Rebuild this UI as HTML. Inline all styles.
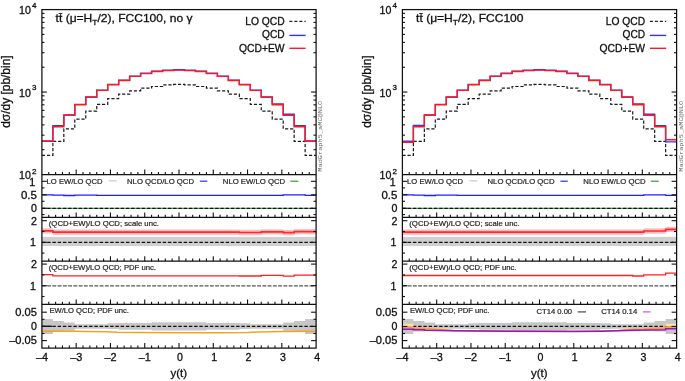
<!DOCTYPE html>
<html><head><meta charset="utf-8"><style>
html,body{margin:0;padding:0;background:#fff;}
body{width:685px;height:381px;overflow:hidden;}
svg{display:block;font-family:"Liberation Sans", sans-serif;will-change:transform;}
</style></head><body>
<svg width="685" height="381" viewBox="0 0 685 381">
<rect width="685" height="381" fill="#fff"/>
<rect x="41.90" y="236.9" width="274.20" height="9.1" fill="#cfcfcf"/>
<path d="M41.90 228.20 L52.87 228.20 L52.87 229.50 L63.84 229.50 L63.84 229.50 L74.80 229.50 L74.80 229.50 L85.77 229.50 L85.77 229.50 L96.74 229.50 L96.74 229.50 L107.71 229.50 L107.71 229.50 L118.68 229.50 L118.68 229.50 L129.64 229.50 L129.64 229.50 L140.61 229.50 L140.61 229.50 L151.58 229.50 L151.58 229.50 L162.55 229.50 L162.55 229.50 L173.52 229.50 L173.52 229.50 L184.48 229.50 L184.48 229.50 L195.45 229.50 L195.45 229.50 L206.42 229.50 L206.42 229.50 L217.39 229.50 L217.39 229.50 L228.36 229.50 L228.36 229.50 L239.32 229.50 L239.32 229.80 L250.29 229.80 L250.29 229.80 L261.26 229.80 L261.26 229.20 L272.23 229.20 L272.23 229.20 L283.20 229.20 L283.20 229.90 L294.16 229.90 L294.16 228.90 L305.13 228.90 L305.13 228.90 L316.10 228.90 L316.10 234.30 L305.13 234.30 L305.13 234.30 L294.16 234.30 L294.16 235.30 L283.20 235.30 L283.20 234.60 L272.23 234.60 L272.23 234.60 L261.26 234.60 L261.26 235.20 L250.29 235.20 L250.29 235.20 L239.32 235.20 L239.32 234.90 L228.36 234.90 L228.36 234.90 L217.39 234.90 L217.39 234.90 L206.42 234.90 L206.42 234.90 L195.45 234.90 L195.45 234.90 L184.48 234.90 L184.48 234.90 L173.52 234.90 L173.52 234.90 L162.55 234.90 L162.55 234.90 L151.58 234.90 L151.58 234.90 L140.61 234.90 L140.61 234.90 L129.64 234.90 L129.64 234.90 L118.68 234.90 L118.68 234.90 L107.71 234.90 L107.71 234.90 L96.74 234.90 L96.74 234.90 L85.77 234.90 L85.77 234.90 L74.80 234.90 L74.80 234.90 L63.84 234.90 L63.84 234.90 L52.87 234.90 L52.87 233.60 L41.90 233.60 Z" fill="#ffbec2"/>
<path d="M41.90 318.90 L52.87 318.90 L52.87 321.00 L63.84 321.00 L63.84 322.40 L74.80 322.40 L74.80 324.20 L85.77 324.20 L85.77 324.20 L96.74 324.20 L96.74 324.20 L107.71 324.20 L107.71 323.30 L118.68 323.30 L118.68 323.00 L129.64 323.00 L129.64 323.00 L140.61 323.00 L140.61 323.00 L151.58 323.00 L151.58 322.20 L162.55 322.20 L162.55 322.20 L173.52 322.20 L173.52 322.20 L184.48 322.20 L184.48 322.20 L195.45 322.20 L195.45 322.20 L206.42 322.20 L206.42 323.00 L217.39 323.00 L217.39 323.00 L228.36 323.00 L228.36 323.00 L239.32 323.00 L239.32 323.30 L250.29 323.30 L250.29 324.20 L261.26 324.20 L261.26 324.20 L272.23 324.20 L272.23 324.20 L283.20 324.20 L283.20 322.40 L294.16 322.40 L294.16 321.00 L305.13 321.00 L305.13 318.90 L316.10 318.90 L316.10 334.10 L305.13 334.10 L305.13 331.40 L294.16 331.40 L294.16 330.80 L283.20 330.80 L283.20 328.80 L272.23 328.80 L272.23 328.80 L261.26 328.80 L261.26 328.80 L250.29 328.80 L250.29 329.10 L239.32 329.10 L239.32 329.70 L228.36 329.70 L228.36 329.70 L217.39 329.70 L217.39 329.80 L206.42 329.80 L206.42 330.40 L195.45 330.40 L195.45 330.40 L184.48 330.40 L184.48 330.40 L173.52 330.40 L173.52 330.40 L162.55 330.40 L162.55 330.40 L151.58 330.40 L151.58 329.80 L140.61 329.80 L140.61 329.70 L129.64 329.70 L129.64 329.70 L118.68 329.70 L118.68 329.10 L107.71 329.10 L107.71 328.80 L96.74 328.80 L96.74 328.80 L85.77 328.80 L85.77 328.80 L74.80 328.80 L74.80 330.80 L63.84 330.80 L63.84 331.40 L52.87 331.40 L52.87 334.10 L41.90 334.10 Z" fill="#c6c6c6"/>
<path d="M41.90 155.40 L52.87 155.40 L52.87 141.30 L63.84 141.30 L63.84 128.80 L74.80 128.80 L74.80 119.20 L85.77 119.20 L85.77 111.10 L96.74 111.10 L96.74 104.40 L107.71 104.40 L107.71 98.60 L118.68 98.60 L118.68 94.20 L129.64 94.20 L129.64 90.80 L140.61 90.80 L140.61 88.10 L151.58 88.10 L151.58 86.50 L162.55 86.50 L162.55 84.90 L173.52 84.90 L173.52 84.40 L184.48 84.40 L184.48 84.90 L195.45 84.90 L195.45 86.50 L206.42 86.50 L206.42 88.10 L217.39 88.10 L217.39 90.80 L228.36 90.80 L228.36 94.20 L239.32 94.20 L239.32 98.60 L250.29 98.60 L250.29 104.40 L261.26 104.40 L261.26 111.10 L272.23 111.10 L272.23 119.20 L283.20 119.20 L283.20 128.80 L294.16 128.80 L294.16 141.30 L305.13 141.30 L305.13 155.40 L316.10 155.40" fill="none" stroke="#1a1a1a" stroke-width="1.2" stroke-dasharray="3.2 1.85"/>
<path d="M41.90 141.00 L52.87 141.00 L52.87 125.60 L63.84 125.60 L63.84 115.00 L74.80 115.00 L74.80 104.40 L85.77 104.40 L85.77 96.90 L96.74 96.90 L96.74 90.10 L107.71 90.10 L107.71 84.40 L118.68 84.40 L118.68 80.20 L129.64 80.20 L129.64 76.10 L140.61 76.10 L140.61 73.30 L151.58 73.30 L151.58 71.20 L162.55 71.20 L162.55 70.30 L173.52 70.30 L173.52 69.80 L184.48 69.80 L184.48 70.30 L195.45 70.30 L195.45 71.20 L206.42 71.20 L206.42 73.30 L217.39 73.30 L217.39 76.10 L228.36 76.10 L228.36 80.20 L239.32 80.20 L239.32 84.40 L250.29 84.40 L250.29 90.10 L261.26 90.10 L261.26 96.90 L272.23 96.90 L272.23 103.90 L283.20 103.90 L283.20 114.30 L294.16 114.30 L294.16 125.80 L305.13 125.80 L305.13 141.00 L316.10 141.00" fill="none" stroke="#3333ff" stroke-width="1.4"/>
<path d="M41.90 141.30 L52.87 141.30 L52.87 126.80 L63.84 126.80 L63.84 115.30 L74.80 115.30 L74.80 104.70 L85.77 104.70 L85.77 97.20 L96.74 97.20 L96.74 90.40 L107.71 90.40 L107.71 84.70 L118.68 84.70 L118.68 80.50 L129.64 80.50 L129.64 76.40 L140.61 76.40 L140.61 73.60 L151.58 73.60 L151.58 71.50 L162.55 71.50 L162.55 70.60 L173.52 70.60 L173.52 70.10 L184.48 70.10 L184.48 70.60 L195.45 70.60 L195.45 71.50 L206.42 71.50 L206.42 73.60 L217.39 73.60 L217.39 76.40 L228.36 76.40 L228.36 80.50 L239.32 80.50 L239.32 84.70 L250.29 84.70 L250.29 90.40 L261.26 90.40 L261.26 97.20 L272.23 97.20 L272.23 104.70 L283.20 104.70 L283.20 115.30 L294.16 115.30 L294.16 126.80 L305.13 126.80 L305.13 141.30 L316.10 141.30" fill="none" stroke="#ff1a1a" stroke-width="1.4"/>
<path d="M41.90 194.90 L52.87 194.90 L52.87 195.10 L63.84 195.10 L63.84 195.50 L74.80 195.50 L74.80 195.20 L85.77 195.20 L85.77 195.20 L96.74 195.20 L96.74 195.30 L107.71 195.30 L107.71 195.30 L118.68 195.30 L118.68 195.30 L129.64 195.30 L129.64 195.30 L140.61 195.30 L140.61 195.30 L151.58 195.30 L151.58 195.30 L162.55 195.30 L162.55 195.30 L173.52 195.30 L173.52 195.30 L184.48 195.30 L184.48 195.30 L195.45 195.30 L195.45 195.30 L206.42 195.30 L206.42 195.30 L217.39 195.30 L217.39 195.30 L228.36 195.30 L228.36 195.30 L239.32 195.30 L239.32 195.30 L250.29 195.30 L250.29 195.30 L261.26 195.30 L261.26 195.30 L272.23 195.30 L272.23 195.30 L283.20 195.30 L283.20 194.80 L294.16 194.80 L294.16 194.80 L305.13 194.80 L305.13 195.40 L316.10 195.40" fill="none" stroke="#1e1eff" stroke-width="1.3"/>
<line x1="41.90" y1="208.3" x2="316.10" y2="208.3" stroke="#48b048" stroke-width="1.3"/>
<line x1="41.90" y1="208.3" x2="316.10" y2="208.3" stroke="#111" stroke-width="1.2" stroke-dasharray="3.4 1.85"/>
<path d="M41.90 230.90 L52.87 230.90 L52.87 232.20 L63.84 232.20 L63.84 232.20 L74.80 232.20 L74.80 232.20 L85.77 232.20 L85.77 232.20 L96.74 232.20 L96.74 232.20 L107.71 232.20 L107.71 232.20 L118.68 232.20 L118.68 232.20 L129.64 232.20 L129.64 232.20 L140.61 232.20 L140.61 232.20 L151.58 232.20 L151.58 232.20 L162.55 232.20 L162.55 232.20 L173.52 232.20 L173.52 232.20 L184.48 232.20 L184.48 232.20 L195.45 232.20 L195.45 232.20 L206.42 232.20 L206.42 232.20 L217.39 232.20 L217.39 232.20 L228.36 232.20 L228.36 232.20 L239.32 232.20 L239.32 232.50 L250.29 232.50 L250.29 232.50 L261.26 232.50 L261.26 231.90 L272.23 231.90 L272.23 231.90 L283.20 231.90 L283.20 232.60 L294.16 232.60 L294.16 231.60 L305.13 231.60 L305.13 231.60 L316.10 231.60" fill="none" stroke="#ff2a2a" stroke-width="1.7"/>
<line x1="41.90" y1="242.3" x2="316.10" y2="242.3" stroke="#111" stroke-width="1.2" stroke-dasharray="3.5 1.75"/>
<path d="M41.90 274.60 L52.87 274.60 L52.87 275.80 L63.84 275.80 L63.84 275.80 L74.80 275.80 L74.80 275.80 L85.77 275.80 L85.77 275.80 L96.74 275.80 L96.74 275.80 L107.71 275.80 L107.71 275.80 L118.68 275.80 L118.68 275.80 L129.64 275.80 L129.64 275.80 L140.61 275.80 L140.61 275.80 L151.58 275.80 L151.58 275.80 L162.55 275.80 L162.55 275.80 L173.52 275.80 L173.52 275.80 L184.48 275.80 L184.48 275.80 L195.45 275.80 L195.45 275.80 L206.42 275.80 L206.42 275.80 L217.39 275.80 L217.39 275.80 L228.36 275.80 L228.36 275.80 L239.32 275.80 L239.32 276.00 L250.29 276.00 L250.29 276.00 L261.26 276.00 L261.26 275.40 L272.23 275.40 L272.23 275.40 L283.20 275.40 L283.20 276.20 L294.16 276.20 L294.16 275.20 L305.13 275.20 L305.13 275.20 L316.10 275.20" fill="none" stroke="#ff2020" stroke-width="1.3"/>
<line x1="41.90" y1="285.8" x2="316.10" y2="285.8" stroke="#555" stroke-width="1.3" stroke-dasharray="3.9 1.35"/>
<line x1="41.90" y1="326.3" x2="316.10" y2="326.3" stroke="#111" stroke-width="1.2" stroke-dasharray="3.4 1.85"/>
<line x1="41.90" y1="326.3" x2="52.10" y2="326.3" stroke="#111" stroke-width="1.2"/>
<path d="M41.90 331.20 L74.80 331.30 L86.46 331.50 L107.02 331.80 L117.31 332.30 L137.87 332.60 L179.00 332.80 L220.13 332.70 L247.55 332.50 L257.83 332.00 L281.83 331.60 L316.10 331.20" fill="none" stroke="#f5a21f" stroke-width="1.5"/>
<g stroke="#111" stroke-width="1.1">
<line x1="48.76" y1="174.50" x2="48.76" y2="171.90"/>
<line x1="55.61" y1="174.50" x2="55.61" y2="171.90"/>
<line x1="62.47" y1="174.50" x2="62.47" y2="171.90"/>
<line x1="69.32" y1="174.50" x2="69.32" y2="171.90"/>
<line x1="76.18" y1="174.50" x2="76.18" y2="169.50"/>
<line x1="83.03" y1="174.50" x2="83.03" y2="171.90"/>
<line x1="89.89" y1="174.50" x2="89.89" y2="171.90"/>
<line x1="96.74" y1="174.50" x2="96.74" y2="171.90"/>
<line x1="103.59" y1="174.50" x2="103.59" y2="171.90"/>
<line x1="110.45" y1="174.50" x2="110.45" y2="169.50"/>
<line x1="117.31" y1="174.50" x2="117.31" y2="171.90"/>
<line x1="124.16" y1="174.50" x2="124.16" y2="171.90"/>
<line x1="131.02" y1="174.50" x2="131.02" y2="171.90"/>
<line x1="137.87" y1="174.50" x2="137.87" y2="171.90"/>
<line x1="144.73" y1="174.50" x2="144.73" y2="169.50"/>
<line x1="151.58" y1="174.50" x2="151.58" y2="171.90"/>
<line x1="158.44" y1="174.50" x2="158.44" y2="171.90"/>
<line x1="165.29" y1="174.50" x2="165.29" y2="171.90"/>
<line x1="172.15" y1="174.50" x2="172.15" y2="171.90"/>
<line x1="179.00" y1="174.50" x2="179.00" y2="169.50"/>
<line x1="185.86" y1="174.50" x2="185.86" y2="171.90"/>
<line x1="192.71" y1="174.50" x2="192.71" y2="171.90"/>
<line x1="199.57" y1="174.50" x2="199.57" y2="171.90"/>
<line x1="206.42" y1="174.50" x2="206.42" y2="171.90"/>
<line x1="213.28" y1="174.50" x2="213.28" y2="169.50"/>
<line x1="220.13" y1="174.50" x2="220.13" y2="171.90"/>
<line x1="226.99" y1="174.50" x2="226.99" y2="171.90"/>
<line x1="233.84" y1="174.50" x2="233.84" y2="171.90"/>
<line x1="240.70" y1="174.50" x2="240.70" y2="171.90"/>
<line x1="247.55" y1="174.50" x2="247.55" y2="169.50"/>
<line x1="254.41" y1="174.50" x2="254.41" y2="171.90"/>
<line x1="261.26" y1="174.50" x2="261.26" y2="171.90"/>
<line x1="268.12" y1="174.50" x2="268.12" y2="171.90"/>
<line x1="274.97" y1="174.50" x2="274.97" y2="171.90"/>
<line x1="281.83" y1="174.50" x2="281.83" y2="169.50"/>
<line x1="288.68" y1="174.50" x2="288.68" y2="171.90"/>
<line x1="295.54" y1="174.50" x2="295.54" y2="171.90"/>
<line x1="302.39" y1="174.50" x2="302.39" y2="171.90"/>
<line x1="309.25" y1="174.50" x2="309.25" y2="171.90"/>
<line x1="48.76" y1="217.40" x2="48.76" y2="214.80"/>
<line x1="55.61" y1="217.40" x2="55.61" y2="214.80"/>
<line x1="62.47" y1="217.40" x2="62.47" y2="214.80"/>
<line x1="69.32" y1="217.40" x2="69.32" y2="214.80"/>
<line x1="76.18" y1="217.40" x2="76.18" y2="212.40"/>
<line x1="83.03" y1="217.40" x2="83.03" y2="214.80"/>
<line x1="89.89" y1="217.40" x2="89.89" y2="214.80"/>
<line x1="96.74" y1="217.40" x2="96.74" y2="214.80"/>
<line x1="103.59" y1="217.40" x2="103.59" y2="214.80"/>
<line x1="110.45" y1="217.40" x2="110.45" y2="212.40"/>
<line x1="117.31" y1="217.40" x2="117.31" y2="214.80"/>
<line x1="124.16" y1="217.40" x2="124.16" y2="214.80"/>
<line x1="131.02" y1="217.40" x2="131.02" y2="214.80"/>
<line x1="137.87" y1="217.40" x2="137.87" y2="214.80"/>
<line x1="144.73" y1="217.40" x2="144.73" y2="212.40"/>
<line x1="151.58" y1="217.40" x2="151.58" y2="214.80"/>
<line x1="158.44" y1="217.40" x2="158.44" y2="214.80"/>
<line x1="165.29" y1="217.40" x2="165.29" y2="214.80"/>
<line x1="172.15" y1="217.40" x2="172.15" y2="214.80"/>
<line x1="179.00" y1="217.40" x2="179.00" y2="212.40"/>
<line x1="185.86" y1="217.40" x2="185.86" y2="214.80"/>
<line x1="192.71" y1="217.40" x2="192.71" y2="214.80"/>
<line x1="199.57" y1="217.40" x2="199.57" y2="214.80"/>
<line x1="206.42" y1="217.40" x2="206.42" y2="214.80"/>
<line x1="213.28" y1="217.40" x2="213.28" y2="212.40"/>
<line x1="220.13" y1="217.40" x2="220.13" y2="214.80"/>
<line x1="226.99" y1="217.40" x2="226.99" y2="214.80"/>
<line x1="233.84" y1="217.40" x2="233.84" y2="214.80"/>
<line x1="240.70" y1="217.40" x2="240.70" y2="214.80"/>
<line x1="247.55" y1="217.40" x2="247.55" y2="212.40"/>
<line x1="254.41" y1="217.40" x2="254.41" y2="214.80"/>
<line x1="261.26" y1="217.40" x2="261.26" y2="214.80"/>
<line x1="268.12" y1="217.40" x2="268.12" y2="214.80"/>
<line x1="274.97" y1="217.40" x2="274.97" y2="214.80"/>
<line x1="281.83" y1="217.40" x2="281.83" y2="212.40"/>
<line x1="288.68" y1="217.40" x2="288.68" y2="214.80"/>
<line x1="295.54" y1="217.40" x2="295.54" y2="214.80"/>
<line x1="302.39" y1="217.40" x2="302.39" y2="214.80"/>
<line x1="309.25" y1="217.40" x2="309.25" y2="214.80"/>
<line x1="48.76" y1="261.20" x2="48.76" y2="258.60"/>
<line x1="55.61" y1="261.20" x2="55.61" y2="258.60"/>
<line x1="62.47" y1="261.20" x2="62.47" y2="258.60"/>
<line x1="69.32" y1="261.20" x2="69.32" y2="258.60"/>
<line x1="76.18" y1="261.20" x2="76.18" y2="256.20"/>
<line x1="83.03" y1="261.20" x2="83.03" y2="258.60"/>
<line x1="89.89" y1="261.20" x2="89.89" y2="258.60"/>
<line x1="96.74" y1="261.20" x2="96.74" y2="258.60"/>
<line x1="103.59" y1="261.20" x2="103.59" y2="258.60"/>
<line x1="110.45" y1="261.20" x2="110.45" y2="256.20"/>
<line x1="117.31" y1="261.20" x2="117.31" y2="258.60"/>
<line x1="124.16" y1="261.20" x2="124.16" y2="258.60"/>
<line x1="131.02" y1="261.20" x2="131.02" y2="258.60"/>
<line x1="137.87" y1="261.20" x2="137.87" y2="258.60"/>
<line x1="144.73" y1="261.20" x2="144.73" y2="256.20"/>
<line x1="151.58" y1="261.20" x2="151.58" y2="258.60"/>
<line x1="158.44" y1="261.20" x2="158.44" y2="258.60"/>
<line x1="165.29" y1="261.20" x2="165.29" y2="258.60"/>
<line x1="172.15" y1="261.20" x2="172.15" y2="258.60"/>
<line x1="179.00" y1="261.20" x2="179.00" y2="256.20"/>
<line x1="185.86" y1="261.20" x2="185.86" y2="258.60"/>
<line x1="192.71" y1="261.20" x2="192.71" y2="258.60"/>
<line x1="199.57" y1="261.20" x2="199.57" y2="258.60"/>
<line x1="206.42" y1="261.20" x2="206.42" y2="258.60"/>
<line x1="213.28" y1="261.20" x2="213.28" y2="256.20"/>
<line x1="220.13" y1="261.20" x2="220.13" y2="258.60"/>
<line x1="226.99" y1="261.20" x2="226.99" y2="258.60"/>
<line x1="233.84" y1="261.20" x2="233.84" y2="258.60"/>
<line x1="240.70" y1="261.20" x2="240.70" y2="258.60"/>
<line x1="247.55" y1="261.20" x2="247.55" y2="256.20"/>
<line x1="254.41" y1="261.20" x2="254.41" y2="258.60"/>
<line x1="261.26" y1="261.20" x2="261.26" y2="258.60"/>
<line x1="268.12" y1="261.20" x2="268.12" y2="258.60"/>
<line x1="274.97" y1="261.20" x2="274.97" y2="258.60"/>
<line x1="281.83" y1="261.20" x2="281.83" y2="256.20"/>
<line x1="288.68" y1="261.20" x2="288.68" y2="258.60"/>
<line x1="295.54" y1="261.20" x2="295.54" y2="258.60"/>
<line x1="302.39" y1="261.20" x2="302.39" y2="258.60"/>
<line x1="309.25" y1="261.20" x2="309.25" y2="258.60"/>
<line x1="48.76" y1="304.40" x2="48.76" y2="301.80"/>
<line x1="55.61" y1="304.40" x2="55.61" y2="301.80"/>
<line x1="62.47" y1="304.40" x2="62.47" y2="301.80"/>
<line x1="69.32" y1="304.40" x2="69.32" y2="301.80"/>
<line x1="76.18" y1="304.40" x2="76.18" y2="299.40"/>
<line x1="83.03" y1="304.40" x2="83.03" y2="301.80"/>
<line x1="89.89" y1="304.40" x2="89.89" y2="301.80"/>
<line x1="96.74" y1="304.40" x2="96.74" y2="301.80"/>
<line x1="103.59" y1="304.40" x2="103.59" y2="301.80"/>
<line x1="110.45" y1="304.40" x2="110.45" y2="299.40"/>
<line x1="117.31" y1="304.40" x2="117.31" y2="301.80"/>
<line x1="124.16" y1="304.40" x2="124.16" y2="301.80"/>
<line x1="131.02" y1="304.40" x2="131.02" y2="301.80"/>
<line x1="137.87" y1="304.40" x2="137.87" y2="301.80"/>
<line x1="144.73" y1="304.40" x2="144.73" y2="299.40"/>
<line x1="151.58" y1="304.40" x2="151.58" y2="301.80"/>
<line x1="158.44" y1="304.40" x2="158.44" y2="301.80"/>
<line x1="165.29" y1="304.40" x2="165.29" y2="301.80"/>
<line x1="172.15" y1="304.40" x2="172.15" y2="301.80"/>
<line x1="179.00" y1="304.40" x2="179.00" y2="299.40"/>
<line x1="185.86" y1="304.40" x2="185.86" y2="301.80"/>
<line x1="192.71" y1="304.40" x2="192.71" y2="301.80"/>
<line x1="199.57" y1="304.40" x2="199.57" y2="301.80"/>
<line x1="206.42" y1="304.40" x2="206.42" y2="301.80"/>
<line x1="213.28" y1="304.40" x2="213.28" y2="299.40"/>
<line x1="220.13" y1="304.40" x2="220.13" y2="301.80"/>
<line x1="226.99" y1="304.40" x2="226.99" y2="301.80"/>
<line x1="233.84" y1="304.40" x2="233.84" y2="301.80"/>
<line x1="240.70" y1="304.40" x2="240.70" y2="301.80"/>
<line x1="247.55" y1="304.40" x2="247.55" y2="299.40"/>
<line x1="254.41" y1="304.40" x2="254.41" y2="301.80"/>
<line x1="261.26" y1="304.40" x2="261.26" y2="301.80"/>
<line x1="268.12" y1="304.40" x2="268.12" y2="301.80"/>
<line x1="274.97" y1="304.40" x2="274.97" y2="301.80"/>
<line x1="281.83" y1="304.40" x2="281.83" y2="299.40"/>
<line x1="288.68" y1="304.40" x2="288.68" y2="301.80"/>
<line x1="295.54" y1="304.40" x2="295.54" y2="301.80"/>
<line x1="302.39" y1="304.40" x2="302.39" y2="301.80"/>
<line x1="309.25" y1="304.40" x2="309.25" y2="301.80"/>
<line x1="48.76" y1="348.10" x2="48.76" y2="345.50"/>
<line x1="55.61" y1="348.10" x2="55.61" y2="345.50"/>
<line x1="62.47" y1="348.10" x2="62.47" y2="345.50"/>
<line x1="69.32" y1="348.10" x2="69.32" y2="345.50"/>
<line x1="76.18" y1="348.10" x2="76.18" y2="343.10"/>
<line x1="83.03" y1="348.10" x2="83.03" y2="345.50"/>
<line x1="89.89" y1="348.10" x2="89.89" y2="345.50"/>
<line x1="96.74" y1="348.10" x2="96.74" y2="345.50"/>
<line x1="103.59" y1="348.10" x2="103.59" y2="345.50"/>
<line x1="110.45" y1="348.10" x2="110.45" y2="343.10"/>
<line x1="117.31" y1="348.10" x2="117.31" y2="345.50"/>
<line x1="124.16" y1="348.10" x2="124.16" y2="345.50"/>
<line x1="131.02" y1="348.10" x2="131.02" y2="345.50"/>
<line x1="137.87" y1="348.10" x2="137.87" y2="345.50"/>
<line x1="144.73" y1="348.10" x2="144.73" y2="343.10"/>
<line x1="151.58" y1="348.10" x2="151.58" y2="345.50"/>
<line x1="158.44" y1="348.10" x2="158.44" y2="345.50"/>
<line x1="165.29" y1="348.10" x2="165.29" y2="345.50"/>
<line x1="172.15" y1="348.10" x2="172.15" y2="345.50"/>
<line x1="179.00" y1="348.10" x2="179.00" y2="343.10"/>
<line x1="185.86" y1="348.10" x2="185.86" y2="345.50"/>
<line x1="192.71" y1="348.10" x2="192.71" y2="345.50"/>
<line x1="199.57" y1="348.10" x2="199.57" y2="345.50"/>
<line x1="206.42" y1="348.10" x2="206.42" y2="345.50"/>
<line x1="213.28" y1="348.10" x2="213.28" y2="343.10"/>
<line x1="220.13" y1="348.10" x2="220.13" y2="345.50"/>
<line x1="226.99" y1="348.10" x2="226.99" y2="345.50"/>
<line x1="233.84" y1="348.10" x2="233.84" y2="345.50"/>
<line x1="240.70" y1="348.10" x2="240.70" y2="345.50"/>
<line x1="247.55" y1="348.10" x2="247.55" y2="343.10"/>
<line x1="254.41" y1="348.10" x2="254.41" y2="345.50"/>
<line x1="261.26" y1="348.10" x2="261.26" y2="345.50"/>
<line x1="268.12" y1="348.10" x2="268.12" y2="345.50"/>
<line x1="274.97" y1="348.10" x2="274.97" y2="345.50"/>
<line x1="281.83" y1="348.10" x2="281.83" y2="343.10"/>
<line x1="288.68" y1="348.10" x2="288.68" y2="345.50"/>
<line x1="295.54" y1="348.10" x2="295.54" y2="345.50"/>
<line x1="302.39" y1="348.10" x2="302.39" y2="345.50"/>
<line x1="309.25" y1="348.10" x2="309.25" y2="345.50"/>
<line x1="41.90" y1="92.05" x2="46.90" y2="92.05"/>
<line x1="316.10" y1="92.05" x2="311.10" y2="92.05"/>
<line x1="41.90" y1="149.68" x2="44.50" y2="149.68"/>
<line x1="316.10" y1="149.68" x2="313.50" y2="149.68"/>
<line x1="41.90" y1="135.16" x2="44.50" y2="135.16"/>
<line x1="316.10" y1="135.16" x2="313.50" y2="135.16"/>
<line x1="41.90" y1="124.86" x2="44.50" y2="124.86"/>
<line x1="316.10" y1="124.86" x2="313.50" y2="124.86"/>
<line x1="41.90" y1="116.87" x2="44.50" y2="116.87"/>
<line x1="316.10" y1="116.87" x2="313.50" y2="116.87"/>
<line x1="41.90" y1="110.34" x2="44.50" y2="110.34"/>
<line x1="316.10" y1="110.34" x2="313.50" y2="110.34"/>
<line x1="41.90" y1="104.82" x2="44.50" y2="104.82"/>
<line x1="316.10" y1="104.82" x2="313.50" y2="104.82"/>
<line x1="41.90" y1="100.04" x2="44.50" y2="100.04"/>
<line x1="316.10" y1="100.04" x2="313.50" y2="100.04"/>
<line x1="41.90" y1="95.82" x2="44.50" y2="95.82"/>
<line x1="316.10" y1="95.82" x2="313.50" y2="95.82"/>
<line x1="41.90" y1="67.23" x2="44.50" y2="67.23"/>
<line x1="316.10" y1="67.23" x2="313.50" y2="67.23"/>
<line x1="41.90" y1="52.71" x2="44.50" y2="52.71"/>
<line x1="316.10" y1="52.71" x2="313.50" y2="52.71"/>
<line x1="41.90" y1="42.41" x2="44.50" y2="42.41"/>
<line x1="316.10" y1="42.41" x2="313.50" y2="42.41"/>
<line x1="41.90" y1="34.42" x2="44.50" y2="34.42"/>
<line x1="316.10" y1="34.42" x2="313.50" y2="34.42"/>
<line x1="41.90" y1="27.89" x2="44.50" y2="27.89"/>
<line x1="316.10" y1="27.89" x2="313.50" y2="27.89"/>
<line x1="41.90" y1="22.37" x2="44.50" y2="22.37"/>
<line x1="316.10" y1="22.37" x2="313.50" y2="22.37"/>
<line x1="41.90" y1="17.59" x2="44.50" y2="17.59"/>
<line x1="316.10" y1="17.59" x2="313.50" y2="17.59"/>
<line x1="41.90" y1="13.37" x2="44.50" y2="13.37"/>
<line x1="316.10" y1="13.37" x2="313.50" y2="13.37"/>
<line x1="41.90" y1="181.30" x2="46.90" y2="181.30"/>
<line x1="316.10" y1="181.30" x2="311.10" y2="181.30"/>
<line x1="41.90" y1="194.80" x2="46.90" y2="194.80"/>
<line x1="316.10" y1="194.80" x2="311.10" y2="194.80"/>
<line x1="41.90" y1="187.90" x2="44.50" y2="187.90"/>
<line x1="316.10" y1="187.90" x2="313.50" y2="187.90"/>
<line x1="41.90" y1="201.30" x2="44.50" y2="201.30"/>
<line x1="316.10" y1="201.30" x2="313.50" y2="201.30"/>
<line x1="41.90" y1="214.60" x2="44.50" y2="214.60"/>
<line x1="316.10" y1="214.60" x2="313.50" y2="214.60"/>
<line x1="41.90" y1="208.30" x2="46.90" y2="208.30"/>
<line x1="316.10" y1="208.30" x2="311.10" y2="208.30"/>
<line x1="41.90" y1="220.70" x2="46.90" y2="220.70"/>
<line x1="316.10" y1="220.70" x2="311.10" y2="220.70"/>
<line x1="41.90" y1="242.30" x2="46.90" y2="242.30"/>
<line x1="316.10" y1="242.30" x2="311.10" y2="242.30"/>
<line x1="41.90" y1="231.50" x2="44.50" y2="231.50"/>
<line x1="316.10" y1="231.50" x2="313.50" y2="231.50"/>
<line x1="41.90" y1="253.10" x2="44.50" y2="253.10"/>
<line x1="316.10" y1="253.10" x2="313.50" y2="253.10"/>
<line x1="41.90" y1="264.10" x2="46.90" y2="264.10"/>
<line x1="316.10" y1="264.10" x2="311.10" y2="264.10"/>
<line x1="41.90" y1="285.70" x2="46.90" y2="285.70"/>
<line x1="316.10" y1="285.70" x2="311.10" y2="285.70"/>
<line x1="41.90" y1="274.90" x2="44.50" y2="274.90"/>
<line x1="316.10" y1="274.90" x2="313.50" y2="274.90"/>
<line x1="41.90" y1="296.50" x2="44.50" y2="296.50"/>
<line x1="316.10" y1="296.50" x2="313.50" y2="296.50"/>
<line x1="41.90" y1="312.20" x2="46.90" y2="312.20"/>
<line x1="316.10" y1="312.20" x2="311.10" y2="312.20"/>
<line x1="41.90" y1="326.40" x2="46.90" y2="326.40"/>
<line x1="316.10" y1="326.40" x2="311.10" y2="326.40"/>
<line x1="41.90" y1="340.60" x2="46.90" y2="340.60"/>
<line x1="316.10" y1="340.60" x2="311.10" y2="340.60"/>
<line x1="41.90" y1="319.30" x2="44.50" y2="319.30"/>
<line x1="316.10" y1="319.30" x2="313.50" y2="319.30"/>
<line x1="41.90" y1="333.50" x2="44.50" y2="333.50"/>
<line x1="316.10" y1="333.50" x2="313.50" y2="333.50"/>
</g>
<g stroke="#111" stroke-width="1.25" fill="none">
<rect x="41.90" y="9.60" width="274.20" height="338.50"/>
<line x1="41.90" y1="174.50" x2="316.10" y2="174.50"/>
<line x1="41.90" y1="217.40" x2="316.10" y2="217.40"/>
<line x1="41.90" y1="261.20" x2="316.10" y2="261.20"/>
<line x1="41.90" y1="304.40" x2="316.10" y2="304.40"/>
</g>
<text x="30.80" y="178.60" font-size="10.60" text-anchor="end" fill="#111" stroke="#111" stroke-width="0.30" >10</text>
<text x="36.40" y="173.50" font-size="8.00" text-anchor="end" fill="#111" stroke="#111" stroke-width="0.30" >2</text>
<text x="30.80" y="96.60" font-size="10.60" text-anchor="end" fill="#111" stroke="#111" stroke-width="0.30" >10</text>
<text x="36.40" y="90.40" font-size="8.00" text-anchor="end" fill="#111" stroke="#111" stroke-width="0.30" >3</text>
<text x="30.80" y="14.30" font-size="10.60" text-anchor="end" fill="#111" stroke="#111" stroke-width="0.30" >10</text>
<text x="36.40" y="8.30" font-size="8.00" text-anchor="end" fill="#111" stroke="#111" stroke-width="0.30" >4</text>
<text x="35.20" y="185.60" font-size="10.60" text-anchor="end" fill="#111" stroke="#111" stroke-width="0.30" >1</text>
<text x="21.00" y="198.60" font-size="10.60" textLength="15.90" lengthAdjust="spacingAndGlyphs" fill="#111" stroke="#111" stroke-width="0.30">0.5</text>
<text x="36.80" y="212.10" font-size="10.60" text-anchor="end" fill="#111" stroke="#111" stroke-width="0.30" >0</text>
<text x="36.80" y="224.70" font-size="10.60" text-anchor="end" fill="#111" stroke="#111" stroke-width="0.30" >2</text>
<text x="35.80" y="245.90" font-size="10.60" text-anchor="end" fill="#111" stroke="#111" stroke-width="0.30" >1</text>
<text x="36.80" y="268.10" font-size="10.60" text-anchor="end" fill="#111" stroke="#111" stroke-width="0.30" >2</text>
<text x="35.80" y="289.50" font-size="10.60" text-anchor="end" fill="#111" stroke="#111" stroke-width="0.30" >1</text>
<text x="15.20" y="315.90" font-size="10.60" textLength="21.70" lengthAdjust="spacingAndGlyphs" fill="#111" stroke="#111" stroke-width="0.30">0.05</text>
<text x="36.80" y="330.10" font-size="10.60" text-anchor="end" fill="#111" stroke="#111" stroke-width="0.30" >0</text>
<text x="9.20" y="344.30" font-size="10.60" textLength="27.70" lengthAdjust="spacingAndGlyphs" fill="#111" stroke="#111" stroke-width="0.30">–0.05</text>
<text x="35.90" y="361.00" font-size="10.60" textLength="12.10" lengthAdjust="spacingAndGlyphs" fill="#111" stroke="#111" stroke-width="0.30">–4</text>
<text x="70.18" y="361.00" font-size="10.60" textLength="12.10" lengthAdjust="spacingAndGlyphs" fill="#111" stroke="#111" stroke-width="0.30">–3</text>
<text x="104.45" y="361.00" font-size="10.60" textLength="12.10" lengthAdjust="spacingAndGlyphs" fill="#111" stroke="#111" stroke-width="0.30">–2</text>
<text x="138.73" y="361.00" font-size="10.60" textLength="12.10" lengthAdjust="spacingAndGlyphs" fill="#111" stroke="#111" stroke-width="0.30">–1</text>
<text x="180.00" y="361.00" font-size="10.60" text-anchor="middle" fill="#111" stroke="#111" stroke-width="0.30" >0</text>
<text x="214.28" y="361.00" font-size="10.60" text-anchor="middle" fill="#111" stroke="#111" stroke-width="0.30" >1</text>
<text x="248.55" y="361.00" font-size="10.60" text-anchor="middle" fill="#111" stroke="#111" stroke-width="0.30" >2</text>
<text x="282.83" y="361.00" font-size="10.60" text-anchor="middle" fill="#111" stroke="#111" stroke-width="0.30" >3</text>
<text x="317.10" y="361.00" font-size="10.60" text-anchor="middle" fill="#111" stroke="#111" stroke-width="0.30" >4</text>
<text x="170.40" y="377.40" font-size="11.40" textLength="16.60" lengthAdjust="spacingAndGlyphs" fill="#111" stroke="#111" stroke-width="0.30">y(t)</text>
<text transform="translate(10.40,91.6) rotate(-90)" font-size="12" text-anchor="middle" textLength="72.5" lengthAdjust="spacingAndGlyphs" fill="#111" stroke="#111" stroke-width="0.3">dσ/dy [pb/bin]</text>
<text x="55.60" y="22.3" font-size="11.5" textLength="136.90" lengthAdjust="spacingAndGlyphs" fill="#111" stroke="#111" stroke-width="0.3">t<tspan>t̄</tspan> (μ=H<tspan font-size="8" dy="2.4">T</tspan><tspan dy="-2.4">/2), FCC100</tspan>, no γ</text>
<text x="245.20" y="24.80" font-size="10.60" textLength="39.40" lengthAdjust="spacingAndGlyphs" fill="#111" stroke="#111" stroke-width="0.30">LO QCD</text>
<text x="262.00" y="38.30" font-size="10.60" textLength="22.60" lengthAdjust="spacingAndGlyphs" fill="#111" stroke="#111" stroke-width="0.30">QCD</text>
<text x="239.00" y="51.70" font-size="10.60" textLength="45.60" lengthAdjust="spacingAndGlyphs" fill="#111" stroke="#111" stroke-width="0.30">QCD+EW</text>
<line x1="289.40" y1="21.4" x2="305.70" y2="21.4" stroke="#222" stroke-width="1.1" stroke-dasharray="3 2"/>
<line x1="289.40" y1="35.4" x2="305.70" y2="35.4" stroke="#3333ff" stroke-width="1.4"/>
<line x1="289.40" y1="48.3" x2="305.70" y2="48.3" stroke="#ff1a2a" stroke-width="1.4"/>
<text transform="translate(322.00,136.2) rotate(-90)" font-family="'Liberation Mono', monospace" font-size="6.2" text-anchor="middle" textLength="71" lengthAdjust="spacingAndGlyphs" fill="#6a6a6a">MadGraph5_aMC@NLO</text>
<text x="46.60" y="183.50" font-size="7.00" textLength="55.90" lengthAdjust="spacingAndGlyphs" fill="#262626" stroke="#262626" stroke-width="0.20">LO EW/LO QCD</text>
<line x1="108.80" y1="180.9" x2="116.90" y2="180.9" stroke="#c8c8c8" stroke-width="1.2"/>
<text x="127.00" y="183.50" font-size="7.00" textLength="67.00" lengthAdjust="spacingAndGlyphs" fill="#262626" stroke="#262626" stroke-width="0.20">NLO QCD/LO QCD</text>
<line x1="199.90" y1="181.2" x2="207.30" y2="181.2" stroke="#2b2bff" stroke-width="1.2"/>
<text x="222.80" y="183.50" font-size="7.00" textLength="62.40" lengthAdjust="spacingAndGlyphs" fill="#262626" stroke="#262626" stroke-width="0.20">NLO EW/LO QCD</text>
<line x1="290.30" y1="181.2" x2="298.30" y2="181.2" stroke="#3a9a3a" stroke-width="1.2"/>
<text x="48.80" y="226.20" font-size="7.00" textLength="110.20" lengthAdjust="spacingAndGlyphs" fill="#262626" stroke="#262626" stroke-width="0.20">(QCD+EW)/LO QCD; scale unc.</text>
<text x="48.80" y="269.90" font-size="7.00" textLength="107.20" lengthAdjust="spacingAndGlyphs" fill="#262626" stroke="#262626" stroke-width="0.20">(QCD+EW)/LO QCD; PDF unc.</text>
<text x="49.40" y="313.00" font-size="7.00" textLength="79.60" lengthAdjust="spacingAndGlyphs" fill="#262626" stroke="#262626" stroke-width="0.20">EW/LO QCD; PDF unc.</text>
<rect x="402.40" y="236.9" width="274.20" height="9.1" fill="#cfcfcf"/>
<path d="M402.40 229.50 L413.37 229.50 L413.37 229.50 L424.34 229.50 L424.34 229.50 L435.30 229.50 L435.30 229.50 L446.27 229.50 L446.27 229.50 L457.24 229.50 L457.24 229.50 L468.21 229.50 L468.21 229.50 L479.18 229.50 L479.18 229.50 L490.14 229.50 L490.14 229.50 L501.11 229.50 L501.11 229.50 L512.08 229.50 L512.08 229.50 L523.05 229.50 L523.05 229.50 L534.02 229.50 L534.02 229.50 L544.98 229.50 L544.98 229.50 L555.95 229.50 L555.95 229.50 L566.92 229.50 L566.92 229.50 L577.89 229.50 L577.89 229.50 L588.86 229.50 L588.86 229.50 L599.82 229.50 L599.82 229.50 L610.79 229.50 L610.79 229.50 L621.76 229.50 L621.76 229.50 L632.73 229.50 L632.73 229.50 L643.70 229.50 L643.70 228.30 L654.66 228.30 L654.66 228.30 L665.63 228.30 L665.63 226.70 L676.60 226.70 L676.60 232.10 L665.63 232.10 L665.63 233.70 L654.66 233.70 L654.66 233.70 L643.70 233.70 L643.70 234.90 L632.73 234.90 L632.73 234.90 L621.76 234.90 L621.76 234.90 L610.79 234.90 L610.79 234.90 L599.82 234.90 L599.82 234.90 L588.86 234.90 L588.86 234.90 L577.89 234.90 L577.89 234.90 L566.92 234.90 L566.92 234.90 L555.95 234.90 L555.95 234.90 L544.98 234.90 L544.98 234.90 L534.02 234.90 L534.02 234.90 L523.05 234.90 L523.05 234.90 L512.08 234.90 L512.08 234.90 L501.11 234.90 L501.11 234.90 L490.14 234.90 L490.14 234.90 L479.18 234.90 L479.18 234.90 L468.21 234.90 L468.21 234.90 L457.24 234.90 L457.24 234.90 L446.27 234.90 L446.27 234.90 L435.30 234.90 L435.30 234.90 L424.34 234.90 L424.34 234.90 L413.37 234.90 L413.37 234.90 L402.40 234.90 Z" fill="#ffbec2"/>
<path d="M402.40 318.90 L413.37 318.90 L413.37 321.00 L424.34 321.00 L424.34 322.40 L435.30 322.40 L435.30 324.20 L446.27 324.20 L446.27 324.20 L457.24 324.20 L457.24 324.20 L468.21 324.20 L468.21 323.30 L479.18 323.30 L479.18 323.00 L490.14 323.00 L490.14 323.00 L501.11 323.00 L501.11 323.00 L512.08 323.00 L512.08 322.20 L523.05 322.20 L523.05 322.20 L534.02 322.20 L534.02 322.20 L544.98 322.20 L544.98 322.20 L555.95 322.20 L555.95 322.20 L566.92 322.20 L566.92 323.00 L577.89 323.00 L577.89 323.00 L588.86 323.00 L588.86 323.00 L599.82 323.00 L599.82 323.30 L610.79 323.30 L610.79 324.20 L621.76 324.20 L621.76 324.20 L632.73 324.20 L632.73 324.20 L643.70 324.20 L643.70 322.40 L654.66 322.40 L654.66 321.00 L665.63 321.00 L665.63 318.90 L676.60 318.90 L676.60 334.10 L665.63 334.10 L665.63 331.40 L654.66 331.40 L654.66 330.80 L643.70 330.80 L643.70 328.80 L632.73 328.80 L632.73 328.80 L621.76 328.80 L621.76 328.80 L610.79 328.80 L610.79 329.10 L599.82 329.10 L599.82 329.70 L588.86 329.70 L588.86 329.70 L577.89 329.70 L577.89 329.80 L566.92 329.80 L566.92 330.40 L555.95 330.40 L555.95 330.40 L544.98 330.40 L544.98 330.40 L534.02 330.40 L534.02 330.40 L523.05 330.40 L523.05 330.40 L512.08 330.40 L512.08 329.80 L501.11 329.80 L501.11 329.70 L490.14 329.70 L490.14 329.70 L479.18 329.70 L479.18 329.10 L468.21 329.10 L468.21 328.80 L457.24 328.80 L457.24 328.80 L446.27 328.80 L446.27 328.80 L435.30 328.80 L435.30 330.80 L424.34 330.80 L424.34 331.40 L413.37 331.40 L413.37 334.10 L402.40 334.10 Z" fill="#c6c6c6"/>
<path d="M402.40 155.40 L413.37 155.40 L413.37 141.30 L424.34 141.30 L424.34 128.80 L435.30 128.80 L435.30 119.20 L446.27 119.20 L446.27 111.10 L457.24 111.10 L457.24 104.40 L468.21 104.40 L468.21 98.60 L479.18 98.60 L479.18 94.20 L490.14 94.20 L490.14 90.80 L501.11 90.80 L501.11 88.10 L512.08 88.10 L512.08 86.50 L523.05 86.50 L523.05 84.90 L534.02 84.90 L534.02 84.40 L544.98 84.40 L544.98 84.90 L555.95 84.90 L555.95 86.50 L566.92 86.50 L566.92 88.10 L577.89 88.10 L577.89 90.80 L588.86 90.80 L588.86 94.20 L599.82 94.20 L599.82 98.60 L610.79 98.60 L610.79 104.40 L621.76 104.40 L621.76 111.10 L632.73 111.10 L632.73 119.20 L643.70 119.20 L643.70 128.80 L654.66 128.80 L654.66 141.30 L665.63 141.30 L665.63 155.40 L676.60 155.40" fill="none" stroke="#1a1a1a" stroke-width="1.2" stroke-dasharray="3.2 1.85"/>
<path d="M402.40 141.20 L413.37 141.20 L413.37 125.50 L424.34 125.50 L424.34 115.00 L435.30 115.00 L435.30 104.40 L446.27 104.40 L446.27 96.90 L457.24 96.90 L457.24 90.10 L468.21 90.10 L468.21 84.40 L479.18 84.40 L479.18 80.20 L490.14 80.20 L490.14 76.10 L501.11 76.10 L501.11 73.30 L512.08 73.30 L512.08 71.20 L523.05 71.20 L523.05 70.30 L534.02 70.30 L534.02 69.80 L544.98 69.80 L544.98 70.30 L555.95 70.30 L555.95 71.20 L566.92 71.20 L566.92 73.30 L577.89 73.30 L577.89 76.10 L588.86 76.10 L588.86 80.20 L599.82 80.20 L599.82 84.40 L610.79 84.40 L610.79 90.10 L621.76 90.10 L621.76 96.90 L632.73 96.90 L632.73 103.90 L643.70 103.90 L643.70 114.30 L654.66 114.30 L654.66 125.80 L665.63 125.80 L665.63 141.90 L676.60 141.90" fill="none" stroke="#3333ff" stroke-width="1.4"/>
<path d="M402.40 142.30 L413.37 142.30 L413.37 126.80 L424.34 126.80 L424.34 115.30 L435.30 115.30 L435.30 104.70 L446.27 104.70 L446.27 97.20 L457.24 97.20 L457.24 90.40 L468.21 90.40 L468.21 84.70 L479.18 84.70 L479.18 80.50 L490.14 80.50 L490.14 76.40 L501.11 76.40 L501.11 73.60 L512.08 73.60 L512.08 71.50 L523.05 71.50 L523.05 70.60 L534.02 70.60 L534.02 70.10 L544.98 70.10 L544.98 70.60 L555.95 70.60 L555.95 71.50 L566.92 71.50 L566.92 73.60 L577.89 73.60 L577.89 76.40 L588.86 76.40 L588.86 80.50 L599.82 80.50 L599.82 84.70 L610.79 84.70 L610.79 90.40 L621.76 90.40 L621.76 97.20 L632.73 97.20 L632.73 104.70 L643.70 104.70 L643.70 115.30 L654.66 115.30 L654.66 126.80 L665.63 126.80 L665.63 139.80 L676.60 139.80" fill="none" stroke="#ff1a1a" stroke-width="1.4"/>
<path d="M402.40 194.90 L413.37 194.90 L413.37 195.10 L424.34 195.10 L424.34 195.50 L435.30 195.50 L435.30 195.20 L446.27 195.20 L446.27 195.20 L457.24 195.20 L457.24 195.30 L468.21 195.30 L468.21 195.30 L479.18 195.30 L479.18 195.30 L490.14 195.30 L490.14 195.30 L501.11 195.30 L501.11 195.30 L512.08 195.30 L512.08 195.30 L523.05 195.30 L523.05 195.30 L534.02 195.30 L534.02 195.30 L544.98 195.30 L544.98 195.30 L555.95 195.30 L555.95 195.30 L566.92 195.30 L566.92 195.30 L577.89 195.30 L577.89 195.30 L588.86 195.30 L588.86 195.30 L599.82 195.30 L599.82 195.30 L610.79 195.30 L610.79 195.30 L621.76 195.30 L621.76 195.30 L632.73 195.30 L632.73 195.30 L643.70 195.30 L643.70 194.80 L654.66 194.80 L654.66 194.80 L665.63 194.80 L665.63 195.40 L676.60 195.40" fill="none" stroke="#1e1eff" stroke-width="1.3"/>
<line x1="402.40" y1="208.3" x2="676.60" y2="208.3" stroke="#48b048" stroke-width="1.3"/>
<line x1="402.40" y1="208.3" x2="676.60" y2="208.3" stroke="#111" stroke-width="1.2" stroke-dasharray="3.4 1.85"/>
<path d="M402.40 232.20 L413.37 232.20 L413.37 232.20 L424.34 232.20 L424.34 232.20 L435.30 232.20 L435.30 232.20 L446.27 232.20 L446.27 232.20 L457.24 232.20 L457.24 232.20 L468.21 232.20 L468.21 232.20 L479.18 232.20 L479.18 232.20 L490.14 232.20 L490.14 232.20 L501.11 232.20 L501.11 232.20 L512.08 232.20 L512.08 232.20 L523.05 232.20 L523.05 232.20 L534.02 232.20 L534.02 232.20 L544.98 232.20 L544.98 232.20 L555.95 232.20 L555.95 232.20 L566.92 232.20 L566.92 232.20 L577.89 232.20 L577.89 232.20 L588.86 232.20 L588.86 232.20 L599.82 232.20 L599.82 232.20 L610.79 232.20 L610.79 232.20 L621.76 232.20 L621.76 232.20 L632.73 232.20 L632.73 232.20 L643.70 232.20 L643.70 231.00 L654.66 231.00 L654.66 231.00 L665.63 231.00 L665.63 229.40 L676.60 229.40" fill="none" stroke="#ff2a2a" stroke-width="1.7"/>
<line x1="402.40" y1="242.3" x2="676.60" y2="242.3" stroke="#111" stroke-width="1.2" stroke-dasharray="3.5 1.75"/>
<path d="M402.40 275.50 L413.37 275.50 L413.37 275.50 L424.34 275.50 L424.34 275.50 L435.30 275.50 L435.30 275.50 L446.27 275.50 L446.27 275.50 L457.24 275.50 L457.24 275.50 L468.21 275.50 L468.21 275.50 L479.18 275.50 L479.18 275.50 L490.14 275.50 L490.14 275.50 L501.11 275.50 L501.11 275.50 L512.08 275.50 L512.08 275.50 L523.05 275.50 L523.05 275.50 L534.02 275.50 L534.02 275.50 L544.98 275.50 L544.98 275.50 L555.95 275.50 L555.95 275.50 L566.92 275.50 L566.92 275.50 L577.89 275.50 L577.89 275.50 L588.86 275.50 L588.86 275.50 L599.82 275.50 L599.82 275.50 L610.79 275.50 L610.79 275.50 L621.76 275.50 L621.76 275.50 L632.73 275.50 L632.73 276.00 L643.70 276.00 L643.70 274.80 L654.66 274.80 L654.66 274.80 L665.63 274.80 L665.63 273.20 L676.60 273.20" fill="none" stroke="#ff2020" stroke-width="1.3"/>
<line x1="402.40" y1="285.8" x2="676.60" y2="285.8" stroke="#555" stroke-width="1.3" stroke-dasharray="3.9 1.35"/>
<line x1="402.40" y1="326.3" x2="676.60" y2="326.3" stroke="#111" stroke-width="1.2" stroke-dasharray="3.4 1.85"/>
<line x1="402.40" y1="326.3" x2="412.60" y2="326.3" stroke="#111" stroke-width="1.2"/>
<rect x="402.40" y="323.8" width="10.97" height="3.0" fill="#ffe6a6"/>
<rect x="665.63" y="323.8" width="10.97" height="2.6" fill="#ffe6a6"/>
<path d="M402.40 327.60 L413.37 327.60 L413.37 328.20 L424.34 328.20 L424.34 328.70 L435.30 329.20 L453.81 330.60 L505.23 331.10 L573.78 331.20 L601.20 331.00 L618.33 330.50 L632.04 329.40 L643.70 329.00 L654.66 328.30 L665.63 328.30 L665.63 327.00 L676.60 327.00" fill="none" stroke="#f5a21f" stroke-width="1.6"/>
<path d="M402.40 329.30 L413.37 329.30 L413.37 329.80 L424.34 329.80 L424.34 330.30 L453.81 330.80 L505.23 331.30 L573.78 331.40 L601.20 331.20 L618.33 330.80 L635.47 330.30 L652.61 329.90 L665.63 329.80 L665.63 328.80 L676.60 328.80" fill="none" stroke="#9a10d0" stroke-width="1.5"/>
<g stroke="#111" stroke-width="1.1">
<line x1="409.25" y1="174.50" x2="409.25" y2="171.90"/>
<line x1="416.11" y1="174.50" x2="416.11" y2="171.90"/>
<line x1="422.97" y1="174.50" x2="422.97" y2="171.90"/>
<line x1="429.82" y1="174.50" x2="429.82" y2="171.90"/>
<line x1="436.68" y1="174.50" x2="436.68" y2="169.50"/>
<line x1="443.53" y1="174.50" x2="443.53" y2="171.90"/>
<line x1="450.38" y1="174.50" x2="450.38" y2="171.90"/>
<line x1="457.24" y1="174.50" x2="457.24" y2="171.90"/>
<line x1="464.10" y1="174.50" x2="464.10" y2="171.90"/>
<line x1="470.95" y1="174.50" x2="470.95" y2="169.50"/>
<line x1="477.81" y1="174.50" x2="477.81" y2="171.90"/>
<line x1="484.66" y1="174.50" x2="484.66" y2="171.90"/>
<line x1="491.51" y1="174.50" x2="491.51" y2="171.90"/>
<line x1="498.37" y1="174.50" x2="498.37" y2="171.90"/>
<line x1="505.23" y1="174.50" x2="505.23" y2="169.50"/>
<line x1="512.08" y1="174.50" x2="512.08" y2="171.90"/>
<line x1="518.94" y1="174.50" x2="518.94" y2="171.90"/>
<line x1="525.79" y1="174.50" x2="525.79" y2="171.90"/>
<line x1="532.64" y1="174.50" x2="532.64" y2="171.90"/>
<line x1="539.50" y1="174.50" x2="539.50" y2="169.50"/>
<line x1="546.36" y1="174.50" x2="546.36" y2="171.90"/>
<line x1="553.21" y1="174.50" x2="553.21" y2="171.90"/>
<line x1="560.07" y1="174.50" x2="560.07" y2="171.90"/>
<line x1="566.92" y1="174.50" x2="566.92" y2="171.90"/>
<line x1="573.78" y1="174.50" x2="573.78" y2="169.50"/>
<line x1="580.63" y1="174.50" x2="580.63" y2="171.90"/>
<line x1="587.49" y1="174.50" x2="587.49" y2="171.90"/>
<line x1="594.34" y1="174.50" x2="594.34" y2="171.90"/>
<line x1="601.20" y1="174.50" x2="601.20" y2="171.90"/>
<line x1="608.05" y1="174.50" x2="608.05" y2="169.50"/>
<line x1="614.91" y1="174.50" x2="614.91" y2="171.90"/>
<line x1="621.76" y1="174.50" x2="621.76" y2="171.90"/>
<line x1="628.62" y1="174.50" x2="628.62" y2="171.90"/>
<line x1="635.47" y1="174.50" x2="635.47" y2="171.90"/>
<line x1="642.33" y1="174.50" x2="642.33" y2="169.50"/>
<line x1="649.18" y1="174.50" x2="649.18" y2="171.90"/>
<line x1="656.04" y1="174.50" x2="656.04" y2="171.90"/>
<line x1="662.89" y1="174.50" x2="662.89" y2="171.90"/>
<line x1="669.75" y1="174.50" x2="669.75" y2="171.90"/>
<line x1="409.25" y1="217.40" x2="409.25" y2="214.80"/>
<line x1="416.11" y1="217.40" x2="416.11" y2="214.80"/>
<line x1="422.97" y1="217.40" x2="422.97" y2="214.80"/>
<line x1="429.82" y1="217.40" x2="429.82" y2="214.80"/>
<line x1="436.68" y1="217.40" x2="436.68" y2="212.40"/>
<line x1="443.53" y1="217.40" x2="443.53" y2="214.80"/>
<line x1="450.38" y1="217.40" x2="450.38" y2="214.80"/>
<line x1="457.24" y1="217.40" x2="457.24" y2="214.80"/>
<line x1="464.10" y1="217.40" x2="464.10" y2="214.80"/>
<line x1="470.95" y1="217.40" x2="470.95" y2="212.40"/>
<line x1="477.81" y1="217.40" x2="477.81" y2="214.80"/>
<line x1="484.66" y1="217.40" x2="484.66" y2="214.80"/>
<line x1="491.51" y1="217.40" x2="491.51" y2="214.80"/>
<line x1="498.37" y1="217.40" x2="498.37" y2="214.80"/>
<line x1="505.23" y1="217.40" x2="505.23" y2="212.40"/>
<line x1="512.08" y1="217.40" x2="512.08" y2="214.80"/>
<line x1="518.94" y1="217.40" x2="518.94" y2="214.80"/>
<line x1="525.79" y1="217.40" x2="525.79" y2="214.80"/>
<line x1="532.64" y1="217.40" x2="532.64" y2="214.80"/>
<line x1="539.50" y1="217.40" x2="539.50" y2="212.40"/>
<line x1="546.36" y1="217.40" x2="546.36" y2="214.80"/>
<line x1="553.21" y1="217.40" x2="553.21" y2="214.80"/>
<line x1="560.07" y1="217.40" x2="560.07" y2="214.80"/>
<line x1="566.92" y1="217.40" x2="566.92" y2="214.80"/>
<line x1="573.78" y1="217.40" x2="573.78" y2="212.40"/>
<line x1="580.63" y1="217.40" x2="580.63" y2="214.80"/>
<line x1="587.49" y1="217.40" x2="587.49" y2="214.80"/>
<line x1="594.34" y1="217.40" x2="594.34" y2="214.80"/>
<line x1="601.20" y1="217.40" x2="601.20" y2="214.80"/>
<line x1="608.05" y1="217.40" x2="608.05" y2="212.40"/>
<line x1="614.91" y1="217.40" x2="614.91" y2="214.80"/>
<line x1="621.76" y1="217.40" x2="621.76" y2="214.80"/>
<line x1="628.62" y1="217.40" x2="628.62" y2="214.80"/>
<line x1="635.47" y1="217.40" x2="635.47" y2="214.80"/>
<line x1="642.33" y1="217.40" x2="642.33" y2="212.40"/>
<line x1="649.18" y1="217.40" x2="649.18" y2="214.80"/>
<line x1="656.04" y1="217.40" x2="656.04" y2="214.80"/>
<line x1="662.89" y1="217.40" x2="662.89" y2="214.80"/>
<line x1="669.75" y1="217.40" x2="669.75" y2="214.80"/>
<line x1="409.25" y1="261.20" x2="409.25" y2="258.60"/>
<line x1="416.11" y1="261.20" x2="416.11" y2="258.60"/>
<line x1="422.97" y1="261.20" x2="422.97" y2="258.60"/>
<line x1="429.82" y1="261.20" x2="429.82" y2="258.60"/>
<line x1="436.68" y1="261.20" x2="436.68" y2="256.20"/>
<line x1="443.53" y1="261.20" x2="443.53" y2="258.60"/>
<line x1="450.38" y1="261.20" x2="450.38" y2="258.60"/>
<line x1="457.24" y1="261.20" x2="457.24" y2="258.60"/>
<line x1="464.10" y1="261.20" x2="464.10" y2="258.60"/>
<line x1="470.95" y1="261.20" x2="470.95" y2="256.20"/>
<line x1="477.81" y1="261.20" x2="477.81" y2="258.60"/>
<line x1="484.66" y1="261.20" x2="484.66" y2="258.60"/>
<line x1="491.51" y1="261.20" x2="491.51" y2="258.60"/>
<line x1="498.37" y1="261.20" x2="498.37" y2="258.60"/>
<line x1="505.23" y1="261.20" x2="505.23" y2="256.20"/>
<line x1="512.08" y1="261.20" x2="512.08" y2="258.60"/>
<line x1="518.94" y1="261.20" x2="518.94" y2="258.60"/>
<line x1="525.79" y1="261.20" x2="525.79" y2="258.60"/>
<line x1="532.64" y1="261.20" x2="532.64" y2="258.60"/>
<line x1="539.50" y1="261.20" x2="539.50" y2="256.20"/>
<line x1="546.36" y1="261.20" x2="546.36" y2="258.60"/>
<line x1="553.21" y1="261.20" x2="553.21" y2="258.60"/>
<line x1="560.07" y1="261.20" x2="560.07" y2="258.60"/>
<line x1="566.92" y1="261.20" x2="566.92" y2="258.60"/>
<line x1="573.78" y1="261.20" x2="573.78" y2="256.20"/>
<line x1="580.63" y1="261.20" x2="580.63" y2="258.60"/>
<line x1="587.49" y1="261.20" x2="587.49" y2="258.60"/>
<line x1="594.34" y1="261.20" x2="594.34" y2="258.60"/>
<line x1="601.20" y1="261.20" x2="601.20" y2="258.60"/>
<line x1="608.05" y1="261.20" x2="608.05" y2="256.20"/>
<line x1="614.91" y1="261.20" x2="614.91" y2="258.60"/>
<line x1="621.76" y1="261.20" x2="621.76" y2="258.60"/>
<line x1="628.62" y1="261.20" x2="628.62" y2="258.60"/>
<line x1="635.47" y1="261.20" x2="635.47" y2="258.60"/>
<line x1="642.33" y1="261.20" x2="642.33" y2="256.20"/>
<line x1="649.18" y1="261.20" x2="649.18" y2="258.60"/>
<line x1="656.04" y1="261.20" x2="656.04" y2="258.60"/>
<line x1="662.89" y1="261.20" x2="662.89" y2="258.60"/>
<line x1="669.75" y1="261.20" x2="669.75" y2="258.60"/>
<line x1="409.25" y1="304.40" x2="409.25" y2="301.80"/>
<line x1="416.11" y1="304.40" x2="416.11" y2="301.80"/>
<line x1="422.97" y1="304.40" x2="422.97" y2="301.80"/>
<line x1="429.82" y1="304.40" x2="429.82" y2="301.80"/>
<line x1="436.68" y1="304.40" x2="436.68" y2="299.40"/>
<line x1="443.53" y1="304.40" x2="443.53" y2="301.80"/>
<line x1="450.38" y1="304.40" x2="450.38" y2="301.80"/>
<line x1="457.24" y1="304.40" x2="457.24" y2="301.80"/>
<line x1="464.10" y1="304.40" x2="464.10" y2="301.80"/>
<line x1="470.95" y1="304.40" x2="470.95" y2="299.40"/>
<line x1="477.81" y1="304.40" x2="477.81" y2="301.80"/>
<line x1="484.66" y1="304.40" x2="484.66" y2="301.80"/>
<line x1="491.51" y1="304.40" x2="491.51" y2="301.80"/>
<line x1="498.37" y1="304.40" x2="498.37" y2="301.80"/>
<line x1="505.23" y1="304.40" x2="505.23" y2="299.40"/>
<line x1="512.08" y1="304.40" x2="512.08" y2="301.80"/>
<line x1="518.94" y1="304.40" x2="518.94" y2="301.80"/>
<line x1="525.79" y1="304.40" x2="525.79" y2="301.80"/>
<line x1="532.64" y1="304.40" x2="532.64" y2="301.80"/>
<line x1="539.50" y1="304.40" x2="539.50" y2="299.40"/>
<line x1="546.36" y1="304.40" x2="546.36" y2="301.80"/>
<line x1="553.21" y1="304.40" x2="553.21" y2="301.80"/>
<line x1="560.07" y1="304.40" x2="560.07" y2="301.80"/>
<line x1="566.92" y1="304.40" x2="566.92" y2="301.80"/>
<line x1="573.78" y1="304.40" x2="573.78" y2="299.40"/>
<line x1="580.63" y1="304.40" x2="580.63" y2="301.80"/>
<line x1="587.49" y1="304.40" x2="587.49" y2="301.80"/>
<line x1="594.34" y1="304.40" x2="594.34" y2="301.80"/>
<line x1="601.20" y1="304.40" x2="601.20" y2="301.80"/>
<line x1="608.05" y1="304.40" x2="608.05" y2="299.40"/>
<line x1="614.91" y1="304.40" x2="614.91" y2="301.80"/>
<line x1="621.76" y1="304.40" x2="621.76" y2="301.80"/>
<line x1="628.62" y1="304.40" x2="628.62" y2="301.80"/>
<line x1="635.47" y1="304.40" x2="635.47" y2="301.80"/>
<line x1="642.33" y1="304.40" x2="642.33" y2="299.40"/>
<line x1="649.18" y1="304.40" x2="649.18" y2="301.80"/>
<line x1="656.04" y1="304.40" x2="656.04" y2="301.80"/>
<line x1="662.89" y1="304.40" x2="662.89" y2="301.80"/>
<line x1="669.75" y1="304.40" x2="669.75" y2="301.80"/>
<line x1="409.25" y1="348.10" x2="409.25" y2="345.50"/>
<line x1="416.11" y1="348.10" x2="416.11" y2="345.50"/>
<line x1="422.97" y1="348.10" x2="422.97" y2="345.50"/>
<line x1="429.82" y1="348.10" x2="429.82" y2="345.50"/>
<line x1="436.68" y1="348.10" x2="436.68" y2="343.10"/>
<line x1="443.53" y1="348.10" x2="443.53" y2="345.50"/>
<line x1="450.38" y1="348.10" x2="450.38" y2="345.50"/>
<line x1="457.24" y1="348.10" x2="457.24" y2="345.50"/>
<line x1="464.10" y1="348.10" x2="464.10" y2="345.50"/>
<line x1="470.95" y1="348.10" x2="470.95" y2="343.10"/>
<line x1="477.81" y1="348.10" x2="477.81" y2="345.50"/>
<line x1="484.66" y1="348.10" x2="484.66" y2="345.50"/>
<line x1="491.51" y1="348.10" x2="491.51" y2="345.50"/>
<line x1="498.37" y1="348.10" x2="498.37" y2="345.50"/>
<line x1="505.23" y1="348.10" x2="505.23" y2="343.10"/>
<line x1="512.08" y1="348.10" x2="512.08" y2="345.50"/>
<line x1="518.94" y1="348.10" x2="518.94" y2="345.50"/>
<line x1="525.79" y1="348.10" x2="525.79" y2="345.50"/>
<line x1="532.64" y1="348.10" x2="532.64" y2="345.50"/>
<line x1="539.50" y1="348.10" x2="539.50" y2="343.10"/>
<line x1="546.36" y1="348.10" x2="546.36" y2="345.50"/>
<line x1="553.21" y1="348.10" x2="553.21" y2="345.50"/>
<line x1="560.07" y1="348.10" x2="560.07" y2="345.50"/>
<line x1="566.92" y1="348.10" x2="566.92" y2="345.50"/>
<line x1="573.78" y1="348.10" x2="573.78" y2="343.10"/>
<line x1="580.63" y1="348.10" x2="580.63" y2="345.50"/>
<line x1="587.49" y1="348.10" x2="587.49" y2="345.50"/>
<line x1="594.34" y1="348.10" x2="594.34" y2="345.50"/>
<line x1="601.20" y1="348.10" x2="601.20" y2="345.50"/>
<line x1="608.05" y1="348.10" x2="608.05" y2="343.10"/>
<line x1="614.91" y1="348.10" x2="614.91" y2="345.50"/>
<line x1="621.76" y1="348.10" x2="621.76" y2="345.50"/>
<line x1="628.62" y1="348.10" x2="628.62" y2="345.50"/>
<line x1="635.47" y1="348.10" x2="635.47" y2="345.50"/>
<line x1="642.33" y1="348.10" x2="642.33" y2="343.10"/>
<line x1="649.18" y1="348.10" x2="649.18" y2="345.50"/>
<line x1="656.04" y1="348.10" x2="656.04" y2="345.50"/>
<line x1="662.89" y1="348.10" x2="662.89" y2="345.50"/>
<line x1="669.75" y1="348.10" x2="669.75" y2="345.50"/>
<line x1="402.40" y1="92.05" x2="407.40" y2="92.05"/>
<line x1="676.60" y1="92.05" x2="671.60" y2="92.05"/>
<line x1="402.40" y1="149.68" x2="405.00" y2="149.68"/>
<line x1="676.60" y1="149.68" x2="674.00" y2="149.68"/>
<line x1="402.40" y1="135.16" x2="405.00" y2="135.16"/>
<line x1="676.60" y1="135.16" x2="674.00" y2="135.16"/>
<line x1="402.40" y1="124.86" x2="405.00" y2="124.86"/>
<line x1="676.60" y1="124.86" x2="674.00" y2="124.86"/>
<line x1="402.40" y1="116.87" x2="405.00" y2="116.87"/>
<line x1="676.60" y1="116.87" x2="674.00" y2="116.87"/>
<line x1="402.40" y1="110.34" x2="405.00" y2="110.34"/>
<line x1="676.60" y1="110.34" x2="674.00" y2="110.34"/>
<line x1="402.40" y1="104.82" x2="405.00" y2="104.82"/>
<line x1="676.60" y1="104.82" x2="674.00" y2="104.82"/>
<line x1="402.40" y1="100.04" x2="405.00" y2="100.04"/>
<line x1="676.60" y1="100.04" x2="674.00" y2="100.04"/>
<line x1="402.40" y1="95.82" x2="405.00" y2="95.82"/>
<line x1="676.60" y1="95.82" x2="674.00" y2="95.82"/>
<line x1="402.40" y1="67.23" x2="405.00" y2="67.23"/>
<line x1="676.60" y1="67.23" x2="674.00" y2="67.23"/>
<line x1="402.40" y1="52.71" x2="405.00" y2="52.71"/>
<line x1="676.60" y1="52.71" x2="674.00" y2="52.71"/>
<line x1="402.40" y1="42.41" x2="405.00" y2="42.41"/>
<line x1="676.60" y1="42.41" x2="674.00" y2="42.41"/>
<line x1="402.40" y1="34.42" x2="405.00" y2="34.42"/>
<line x1="676.60" y1="34.42" x2="674.00" y2="34.42"/>
<line x1="402.40" y1="27.89" x2="405.00" y2="27.89"/>
<line x1="676.60" y1="27.89" x2="674.00" y2="27.89"/>
<line x1="402.40" y1="22.37" x2="405.00" y2="22.37"/>
<line x1="676.60" y1="22.37" x2="674.00" y2="22.37"/>
<line x1="402.40" y1="17.59" x2="405.00" y2="17.59"/>
<line x1="676.60" y1="17.59" x2="674.00" y2="17.59"/>
<line x1="402.40" y1="13.37" x2="405.00" y2="13.37"/>
<line x1="676.60" y1="13.37" x2="674.00" y2="13.37"/>
<line x1="402.40" y1="181.30" x2="407.40" y2="181.30"/>
<line x1="676.60" y1="181.30" x2="671.60" y2="181.30"/>
<line x1="402.40" y1="194.80" x2="407.40" y2="194.80"/>
<line x1="676.60" y1="194.80" x2="671.60" y2="194.80"/>
<line x1="402.40" y1="187.90" x2="405.00" y2="187.90"/>
<line x1="676.60" y1="187.90" x2="674.00" y2="187.90"/>
<line x1="402.40" y1="201.30" x2="405.00" y2="201.30"/>
<line x1="676.60" y1="201.30" x2="674.00" y2="201.30"/>
<line x1="402.40" y1="214.60" x2="405.00" y2="214.60"/>
<line x1="676.60" y1="214.60" x2="674.00" y2="214.60"/>
<line x1="402.40" y1="208.30" x2="407.40" y2="208.30"/>
<line x1="676.60" y1="208.30" x2="671.60" y2="208.30"/>
<line x1="402.40" y1="220.70" x2="407.40" y2="220.70"/>
<line x1="676.60" y1="220.70" x2="671.60" y2="220.70"/>
<line x1="402.40" y1="242.30" x2="407.40" y2="242.30"/>
<line x1="676.60" y1="242.30" x2="671.60" y2="242.30"/>
<line x1="402.40" y1="231.50" x2="405.00" y2="231.50"/>
<line x1="676.60" y1="231.50" x2="674.00" y2="231.50"/>
<line x1="402.40" y1="253.10" x2="405.00" y2="253.10"/>
<line x1="676.60" y1="253.10" x2="674.00" y2="253.10"/>
<line x1="402.40" y1="264.10" x2="407.40" y2="264.10"/>
<line x1="676.60" y1="264.10" x2="671.60" y2="264.10"/>
<line x1="402.40" y1="285.70" x2="407.40" y2="285.70"/>
<line x1="676.60" y1="285.70" x2="671.60" y2="285.70"/>
<line x1="402.40" y1="274.90" x2="405.00" y2="274.90"/>
<line x1="676.60" y1="274.90" x2="674.00" y2="274.90"/>
<line x1="402.40" y1="296.50" x2="405.00" y2="296.50"/>
<line x1="676.60" y1="296.50" x2="674.00" y2="296.50"/>
<line x1="402.40" y1="312.20" x2="407.40" y2="312.20"/>
<line x1="676.60" y1="312.20" x2="671.60" y2="312.20"/>
<line x1="402.40" y1="326.40" x2="407.40" y2="326.40"/>
<line x1="676.60" y1="326.40" x2="671.60" y2="326.40"/>
<line x1="402.40" y1="340.60" x2="407.40" y2="340.60"/>
<line x1="676.60" y1="340.60" x2="671.60" y2="340.60"/>
<line x1="402.40" y1="319.30" x2="405.00" y2="319.30"/>
<line x1="676.60" y1="319.30" x2="674.00" y2="319.30"/>
<line x1="402.40" y1="333.50" x2="405.00" y2="333.50"/>
<line x1="676.60" y1="333.50" x2="674.00" y2="333.50"/>
</g>
<g stroke="#111" stroke-width="1.25" fill="none">
<rect x="402.40" y="9.60" width="274.20" height="338.50"/>
<line x1="402.40" y1="174.50" x2="676.60" y2="174.50"/>
<line x1="402.40" y1="217.40" x2="676.60" y2="217.40"/>
<line x1="402.40" y1="261.20" x2="676.60" y2="261.20"/>
<line x1="402.40" y1="304.40" x2="676.60" y2="304.40"/>
</g>
<text x="391.30" y="178.60" font-size="10.60" text-anchor="end" fill="#111" stroke="#111" stroke-width="0.30" >10</text>
<text x="396.90" y="173.50" font-size="8.00" text-anchor="end" fill="#111" stroke="#111" stroke-width="0.30" >2</text>
<text x="391.30" y="96.60" font-size="10.60" text-anchor="end" fill="#111" stroke="#111" stroke-width="0.30" >10</text>
<text x="396.90" y="90.40" font-size="8.00" text-anchor="end" fill="#111" stroke="#111" stroke-width="0.30" >3</text>
<text x="391.30" y="14.30" font-size="10.60" text-anchor="end" fill="#111" stroke="#111" stroke-width="0.30" >10</text>
<text x="396.90" y="8.30" font-size="8.00" text-anchor="end" fill="#111" stroke="#111" stroke-width="0.30" >4</text>
<text x="395.70" y="185.60" font-size="10.60" text-anchor="end" fill="#111" stroke="#111" stroke-width="0.30" >1</text>
<text x="381.50" y="198.60" font-size="10.60" textLength="15.90" lengthAdjust="spacingAndGlyphs" fill="#111" stroke="#111" stroke-width="0.30">0.5</text>
<text x="397.30" y="212.10" font-size="10.60" text-anchor="end" fill="#111" stroke="#111" stroke-width="0.30" >0</text>
<text x="397.30" y="224.70" font-size="10.60" text-anchor="end" fill="#111" stroke="#111" stroke-width="0.30" >2</text>
<text x="396.30" y="245.90" font-size="10.60" text-anchor="end" fill="#111" stroke="#111" stroke-width="0.30" >1</text>
<text x="397.30" y="268.10" font-size="10.60" text-anchor="end" fill="#111" stroke="#111" stroke-width="0.30" >2</text>
<text x="396.30" y="289.50" font-size="10.60" text-anchor="end" fill="#111" stroke="#111" stroke-width="0.30" >1</text>
<text x="375.70" y="315.90" font-size="10.60" textLength="21.70" lengthAdjust="spacingAndGlyphs" fill="#111" stroke="#111" stroke-width="0.30">0.05</text>
<text x="397.30" y="330.10" font-size="10.60" text-anchor="end" fill="#111" stroke="#111" stroke-width="0.30" >0</text>
<text x="369.70" y="344.30" font-size="10.60" textLength="27.70" lengthAdjust="spacingAndGlyphs" fill="#111" stroke="#111" stroke-width="0.30">–0.05</text>
<text x="396.40" y="361.00" font-size="10.60" textLength="12.10" lengthAdjust="spacingAndGlyphs" fill="#111" stroke="#111" stroke-width="0.30">–4</text>
<text x="430.68" y="361.00" font-size="10.60" textLength="12.10" lengthAdjust="spacingAndGlyphs" fill="#111" stroke="#111" stroke-width="0.30">–3</text>
<text x="464.95" y="361.00" font-size="10.60" textLength="12.10" lengthAdjust="spacingAndGlyphs" fill="#111" stroke="#111" stroke-width="0.30">–2</text>
<text x="499.23" y="361.00" font-size="10.60" textLength="12.10" lengthAdjust="spacingAndGlyphs" fill="#111" stroke="#111" stroke-width="0.30">–1</text>
<text x="540.50" y="361.00" font-size="10.60" text-anchor="middle" fill="#111" stroke="#111" stroke-width="0.30" >0</text>
<text x="574.78" y="361.00" font-size="10.60" text-anchor="middle" fill="#111" stroke="#111" stroke-width="0.30" >1</text>
<text x="609.05" y="361.00" font-size="10.60" text-anchor="middle" fill="#111" stroke="#111" stroke-width="0.30" >2</text>
<text x="643.33" y="361.00" font-size="10.60" text-anchor="middle" fill="#111" stroke="#111" stroke-width="0.30" >3</text>
<text x="677.60" y="361.00" font-size="10.60" text-anchor="middle" fill="#111" stroke="#111" stroke-width="0.30" >4</text>
<text x="530.90" y="377.40" font-size="11.40" textLength="16.60" lengthAdjust="spacingAndGlyphs" fill="#111" stroke="#111" stroke-width="0.30">y(t)</text>
<text transform="translate(370.90,91.6) rotate(-90)" font-size="12" text-anchor="middle" textLength="72.5" lengthAdjust="spacingAndGlyphs" fill="#111" stroke="#111" stroke-width="0.3">dσ/dy [pb/bin]</text>
<text x="416.10" y="22.3" font-size="11.5" textLength="107.40" lengthAdjust="spacingAndGlyphs" fill="#111" stroke="#111" stroke-width="0.3">t<tspan>t̄</tspan> (μ=H<tspan font-size="8" dy="2.4">T</tspan><tspan dy="-2.4">/2), FCC100</tspan></text>
<text x="605.70" y="24.80" font-size="10.60" textLength="39.40" lengthAdjust="spacingAndGlyphs" fill="#111" stroke="#111" stroke-width="0.30">LO QCD</text>
<text x="622.50" y="38.30" font-size="10.60" textLength="22.60" lengthAdjust="spacingAndGlyphs" fill="#111" stroke="#111" stroke-width="0.30">QCD</text>
<text x="599.50" y="51.70" font-size="10.60" textLength="45.60" lengthAdjust="spacingAndGlyphs" fill="#111" stroke="#111" stroke-width="0.30">QCD+EW</text>
<line x1="649.90" y1="21.4" x2="666.20" y2="21.4" stroke="#222" stroke-width="1.1" stroke-dasharray="3 2"/>
<line x1="649.90" y1="35.4" x2="666.20" y2="35.4" stroke="#3333ff" stroke-width="1.4"/>
<line x1="649.90" y1="48.3" x2="666.20" y2="48.3" stroke="#ff1a2a" stroke-width="1.4"/>
<text transform="translate(682.50,136.2) rotate(-90)" font-family="'Liberation Mono', monospace" font-size="6.2" text-anchor="middle" textLength="71" lengthAdjust="spacingAndGlyphs" fill="#6a6a6a">MadGraph5_aMC@NLO</text>
<text x="407.10" y="183.50" font-size="7.00" textLength="55.90" lengthAdjust="spacingAndGlyphs" fill="#262626" stroke="#262626" stroke-width="0.20">LO EW/LO QCD</text>
<line x1="469.30" y1="180.9" x2="477.40" y2="180.9" stroke="#c8c8c8" stroke-width="1.2"/>
<text x="487.50" y="183.50" font-size="7.00" textLength="67.00" lengthAdjust="spacingAndGlyphs" fill="#262626" stroke="#262626" stroke-width="0.20">NLO QCD/LO QCD</text>
<line x1="560.40" y1="181.2" x2="567.80" y2="181.2" stroke="#2b2bff" stroke-width="1.2"/>
<text x="583.30" y="183.50" font-size="7.00" textLength="62.40" lengthAdjust="spacingAndGlyphs" fill="#262626" stroke="#262626" stroke-width="0.20">NLO EW/LO QCD</text>
<line x1="650.80" y1="181.2" x2="658.80" y2="181.2" stroke="#3a9a3a" stroke-width="1.2"/>
<text x="409.30" y="226.20" font-size="7.00" textLength="110.20" lengthAdjust="spacingAndGlyphs" fill="#262626" stroke="#262626" stroke-width="0.20">(QCD+EW)/LO QCD; scale unc.</text>
<text x="409.30" y="269.90" font-size="7.00" textLength="107.20" lengthAdjust="spacingAndGlyphs" fill="#262626" stroke="#262626" stroke-width="0.20">(QCD+EW)/LO QCD; PDF unc.</text>
<text x="409.90" y="313.00" font-size="7.00" textLength="79.60" lengthAdjust="spacingAndGlyphs" fill="#262626" stroke="#262626" stroke-width="0.20">EW/LO QCD; PDF unc.</text>
<text x="536.60" y="314.20" font-size="7.00" textLength="35.50" lengthAdjust="spacingAndGlyphs" fill="#262626" stroke="#262626" stroke-width="0.20">CT14 0.00</text>
<line x1="577.8" y1="311.9" x2="586.0" y2="311.9" stroke="#555" stroke-width="1.3"/>
<text x="601.20" y="314.20" font-size="7.00" textLength="36.00" lengthAdjust="spacingAndGlyphs" fill="#262626" stroke="#262626" stroke-width="0.20">CT14 0.14</text>
<line x1="642.9" y1="311.9" x2="650.5" y2="311.9" stroke="#dd55f0" stroke-width="1.3"/>
</svg>
</body></html>
